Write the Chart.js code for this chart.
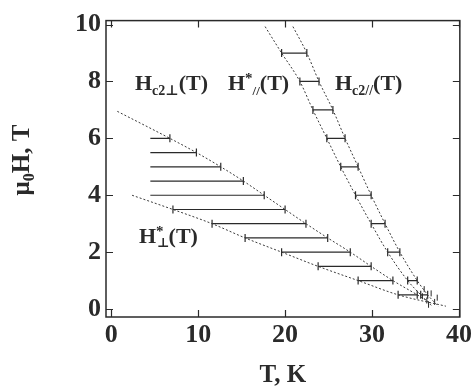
<!DOCTYPE html>
<html><head><meta charset="utf-8">
<script src="https://cdn.jsdelivr.net/npm/chart.js@4/dist/chart.umd.min.js"></script>
<style>html,body{margin:0;padding:0;background:#fff}canvas{display:block}</style>
</head><body>
<canvas id="c" width="475" height="392"></canvas>
<script>
// ---- tick labels ----
const xTicks = [0, 10, 20, 30, 40];
const yTicks = [0, 2, 4, 6, 8, 10];

// ---- H perpendicular: hatch segments ----
const perpH       = [6, 5.5, 5, 4.5, 4, 3.5, 3, 2.5, 2, 1.5, 1, 0.5];
const perpLeftT   = [4.5, 4.5, 4.5, 4.5, 4.5, 7.1, 11.6, 15.4, 19.6, 23.8, 28.4, 33.0];
const perpRightT  = [6.75, 9.8, 12.6, 15.2, 17.6, 20.0, 22.4, 24.9, 27.5, 29.9, 32.4, 35.2];
const perpLeftOnCurve = [0, 0, 0, 0, 0, 1, 1, 1, 1, 1, 1, 1];

// ---- Hc2 perpendicular curve ----
const hc2PerpT = [0.7, 6.75, 9.8, 12.6, 15.2, 17.6, 20.0, 22.4, 24.9, 27.5, 29.9, 32.4, 35.2, 36.8];
const hc2PerpH = [6.95, 6, 5.5, 5, 4.5, 4, 3.5, 3, 2.5, 2, 1.5, 1, 0.5, 0.2];

// ---- H* perpendicular curve ----
const hStarPerpT = [2.4, 7.1, 11.6, 15.4, 19.6, 23.8, 28.4, 33.0, 38.5];
const hStarPerpH = [4.0, 3.5, 3, 2.5, 2, 1.5, 1, 0.5, 0.1];

// ---- H parallel: hatch segments ----
const parH      = [9, 8, 7, 6, 5, 4, 3, 2, 1, 0.5];
const parLeftT  = [19.6, 21.7, 23.2, 24.8, 26.4, 28.1, 29.9, 31.8, 34.1, 35.6];
const parRightT = [22.5, 23.9, 25.5, 26.9, 28.4, 29.9, 31.5, 33.2, 35.2, 36.4];

// ---- H* parallel curve ----
const hStarParT = [17.7, 19.6, 21.7, 23.2, 24.8, 26.4, 28.1, 29.9, 31.8, 34.1, 35.6, 36.9];
const hStarParH = [9.93, 9, 8, 7, 6, 5, 4, 3, 2, 1, 0.5, 0.1];

// ---- Hc2 parallel curve ----
const hc2ParT = [20.9, 22.5, 23.9, 25.5, 26.9, 28.4, 29.9, 31.5, 33.2, 35.2, 36.4, 37.6];
const hc2ParH = [9.93, 9, 8, 7, 6, 5, 4, 3, 2, 1, 0.5, 0.1];

// ---- scattered marks near Tc ----
const clusterT = [35.8, 36.3, 36.8, 37.2, 36.5, 37.5, 36.0];
const clusterH = [0.45, 0.3, 0.55, 0.25, 0.15, 0.4, 0.7];

const INK = '#2a2a2a';
const SERIF = '"Liberation Serif","DejaVu Serif",serif';

function dotted(T, H) {
  return { data: T.map((t, i) => ({ x: t, y: H[i] })), showLine: true, borderColor: '#3a3a3a',
    borderWidth: 1, borderDash: [2, 2], pointRadius: 0, cubicInterpolationMode: 'monotone', fill: false };
}
function seg(t1, t2, h, tickLeft) {
  return { data: [{ x: t1, y: h }, { x: t2, y: h }], showLine: true, borderColor: INK, borderWidth: 1.2,
    pointStyle: 'line', rotation: 90, pointRadius: [tickLeft ? 4 : 0, 4], pointBorderColor: INK,
    pointBorderWidth: 1.2, pointBackgroundColor: INK, fill: false };
}

const datasets = [
  dotted(hc2PerpT, hc2PerpH),
  dotted(hStarPerpT, hStarPerpH),
  dotted(hStarParT, hStarParH),
  dotted(hc2ParT, hc2ParH)
];
perpH.forEach((h, i) => datasets.push(seg(perpLeftT[i], perpRightT[i], h, perpLeftOnCurve[i])));
parH.forEach((h, i) => datasets.push(seg(parLeftT[i], parRightT[i], h, 1)));
datasets.push({ data: clusterT.map((t, i) => ({ x: t, y: clusterH[i] })), showLine: false,
  pointStyle: 'line', rotation: 90, pointRadius: 3, pointBorderColor: INK, pointBorderWidth: 1 });

function drawRuns(ctx, x, y, runs) {
  let cx = x;
  for (const r of runs) {
    ctx.font = `bold ${r.size}px ${SERIF}`;
    ctx.fillText(r.t, cx + (r.dx || 0), y + (r.dy || 0));
    const w = ctx.measureText(r.t).width;
    if (!r.stack) cx += w + (r.gap || 0);
  }
  return cx - x;
}
function runsWidth(ctx, runs) {
  let w = 0;
  for (const r of runs) { ctx.font = `bold ${r.size}px ${SERIF}`; if (!r.stack) w += ctx.measureText(r.t).width + (r.gap || 0); }
  return w;
}

const decor = {
  id: 'decor',
  afterDraw(chart) {
    const { ctx, chartArea: a, scales: { x, y } } = chart;
    ctx.save();
    ctx.strokeStyle = INK; ctx.lineWidth = 1.5;
    ctx.strokeRect(a.left, a.top, a.right - a.left, a.bottom - a.top);
    ctx.lineWidth = 1.2;
    const L = 7;
    ctx.beginPath();
    xTicks.forEach(v => { const px = Math.round(x.getPixelForValue(v)) + 0.5;
      ctx.moveTo(px, a.bottom); ctx.lineTo(px, a.bottom - L);
      ctx.moveTo(px, a.top); ctx.lineTo(px, a.top + L); });
    yTicks.forEach(v => { const py = Math.round(y.getPixelForValue(v)) + 0.5;
      ctx.moveTo(a.left, py); ctx.lineTo(a.left + L, py);
      ctx.moveTo(a.right, py); ctx.lineTo(a.right - L, py); });
    ctx.stroke();

    ctx.fillStyle = INK; ctx.textBaseline = 'alphabetic'; ctx.textAlign = 'left';
    // curve labels
    drawRuns(ctx, 135, 90, [{ t: 'H', size: 22 }, { t: 'c2\u22A5', size: 14, dy: 5 }, { t: '(T)', size: 22, gap: 0 }]);
    drawRuns(ctx, 228, 90, [{ t: 'H', size: 22 }, { t: '*', size: 15, dy: -7 }, { t: '//', size: 13, dy: 5 }, { t: '(T)', size: 22 }]);
    drawRuns(ctx, 335, 90, [{ t: 'H', size: 22 }, { t: 'c2//', size: 14, dy: 5 }, { t: '(T)', size: 22 }]);
    drawRuns(ctx, 139, 243, [{ t: 'H', size: 22 }, { t: '*', size: 15, dy: -7, stack: true }, { t: '\u22A5', size: 13, dy: 4, dx: 1 }, { t: '(T)', size: 22 }]);

    // x title
    const xr = [{ t: 'T, K', size: 25 }];
    const xw = runsWidth(ctx, xr);
    drawRuns(ctx, (a.left + a.right) / 2 - xw / 2, 382, xr);

    // y title (rotated)
    const yr = [{ t: '\u03BC', size: 25 }, { t: '0', size: 16, dy: 5 }, { t: 'H, T', size: 25 }];
    const yw = runsWidth(ctx, yr);
    ctx.translate(29, 160);
    ctx.rotate(-Math.PI / 2);
    drawRuns(ctx, -yw / 2, 0, yr);
    ctx.restore();
  }
};

new Chart(document.getElementById('c'), {
  type: 'scatter',
  data: { datasets },
  options: {
    responsive: false, animation: false, events: [], devicePixelRatio: 1,
    layout: { padding: { left: 0, right: 13, top: 16, bottom: 0 } },
    plugins: { legend: { display: false }, tooltip: { enabled: false } },
    scales: {
      x: {
        type: 'linear', min: -0.6, max: 40.1,
        afterFit(s) { s.height = 75; },
        afterBuildTicks(s) { s.ticks = xTicks.map(v => ({ value: v })); },
        grid: { display: false, drawTicks: false }, border: { display: false },
        ticks: { padding: 3, color: INK, maxRotation: 0, autoSkip: false,
          font: { family: SERIF, size: 26, weight: 'bold' } }
      },
      y: {
        type: 'linear', min: -0.28, max: 10.14,
        afterFit(s) { s.width = 106; },
        afterBuildTicks(s) { s.ticks = yTicks.map(v => ({ value: v })); },
        grid: { display: false, drawTicks: false }, border: { display: false },
        ticks: { padding: 5, color: INK, autoSkip: false,
          font: { family: SERIF, size: 26, weight: 'bold' } }
      }
    }
  },
  plugins: [decor]
});
</script>
</body></html>
